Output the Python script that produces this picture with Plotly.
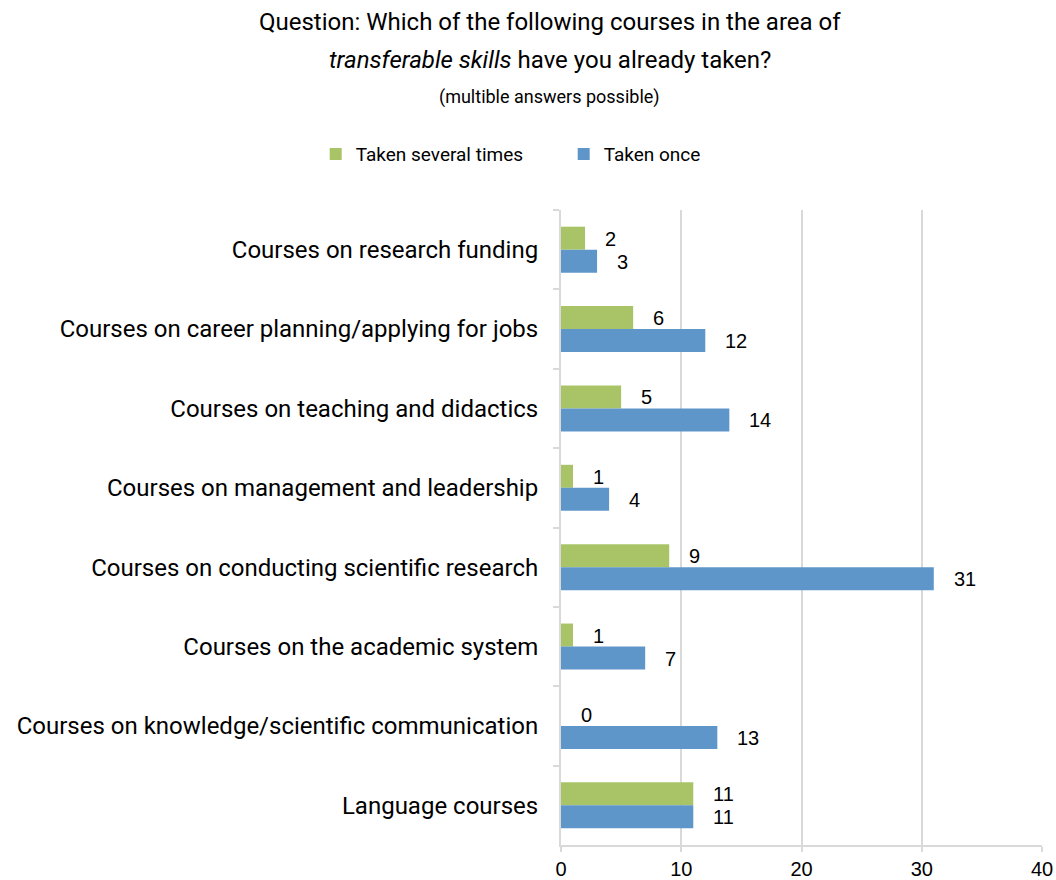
import plotly.graph_objects as go

# Survey categories, listed top to bottom as drawn
categories = [
    "Courses on research funding",
    "Courses on career planning/applying for jobs",
    "Courses on teaching and didactics",
    "Courses on management and leadership",
    "Courses on conducting scientific research",
    "Courses on the academic system",
    "Courses on knowledge/scientific communication",
    "Language courses",
]
taken_several_times = [2, 6, 5, 1, 9, 1, 0, 11]
taken_once = [3, 12, 14, 4, 31, 7, 13, 11]
x_ticks = [0, 10, 20, 30, 40]

GREEN = "#A9C467"
BLUE = "#5F96C9"
GRID = "#D9D9D9"
LABEL_FONT = "Roboto"
NUM_FONT = "Liberation Sans"

fig = go.Figure()
fig.add_trace(go.Bar(
    y=categories, x=taken_several_times, orientation="h",
    name="Taken several times", marker=dict(color=GREEN, line=dict(width=0)),
))
fig.add_trace(go.Bar(
    y=categories, x=taken_once, orientation="h",
    name="Taken once", marker=dict(color=BLUE, line=dict(width=0)),
))

# Value labels to the right of each bar
annotations = []
for cat, v in zip(categories, taken_several_times):
    annotations.append(dict(x=v, y=cat, xref="x", yref="y", text=str(v),
                            showarrow=False, xanchor="left", yanchor="middle",
                            xshift=18, yshift=11,
                            font=dict(family=NUM_FONT, size=20, color="#000000")))
for cat, v in zip(categories, taken_once):
    annotations.append(dict(x=v, y=cat, xref="x", yref="y", text=str(v),
                            showarrow=False, xanchor="left", yanchor="middle",
                            xshift=18, yshift=-12,
                            font=dict(family=NUM_FONT, size=20, color="#000000")))

# Title lines
annotations += [
    dict(text="Question: Which of the following courses in the area of",
         x=-0.023, y=1.296, xref="paper", yref="paper", showarrow=False,
         xanchor="center", yanchor="middle",
         font=dict(family=LABEL_FONT, size=24, color="#000000")),
    dict(text="<i>transferable skills</i> have you already taken?",
         x=-0.023, y=1.236, xref="paper", yref="paper", showarrow=False,
         xanchor="center", yanchor="middle",
         font=dict(family=LABEL_FONT, size=24, color="#000000")),
    dict(text="(multible answers possible)",
         x=-0.023, y=1.178, xref="paper", yref="paper", showarrow=False,
         xanchor="center", yanchor="middle",
         font=dict(family=LABEL_FONT, size=18, color="#000000")),
]

fig.update_layout(
    width=1056, height=880,
    margin=dict(l=561, r=14, t=210, b=35, autoexpand=False),
    paper_bgcolor="white", plot_bgcolor="white",
    barmode="group", bargap=0.42, bargroupgap=0,
    showlegend=True,
    legend=dict(orientation="h", x=-0.51, y=1.088, xanchor="left", yanchor="middle",
                font=dict(family=LABEL_FONT, size=19, color="#000000"),
                itemclick=False, entrywidth=203, entrywidthmode="pixels"),
    annotations=annotations,
    xaxis=dict(range=[0, 40], tickvals=x_ticks, showgrid=True, gridcolor=GRID,
               gridwidth=2, showline=True, linecolor=GRID, linewidth=2,
               ticks="outside", ticklen=5, tickcolor=GRID, tickwidth=2,
               zeroline=False,
               tickfont=dict(family=NUM_FONT, size=20, color="#000000")),
    yaxis=dict(categoryorder="array", categoryarray=categories,
               autorange="reversed", showgrid=False, showline=True,
               linecolor=GRID, linewidth=2, ticks="outside", ticklen=6,
               tickcolor=GRID, tickwidth=2, tickson="boundaries",
               ticklabelstandoff=16,
               tickfont=dict(family=LABEL_FONT, size=24, color="#000000")),
)

fig.write_html("out.html")
